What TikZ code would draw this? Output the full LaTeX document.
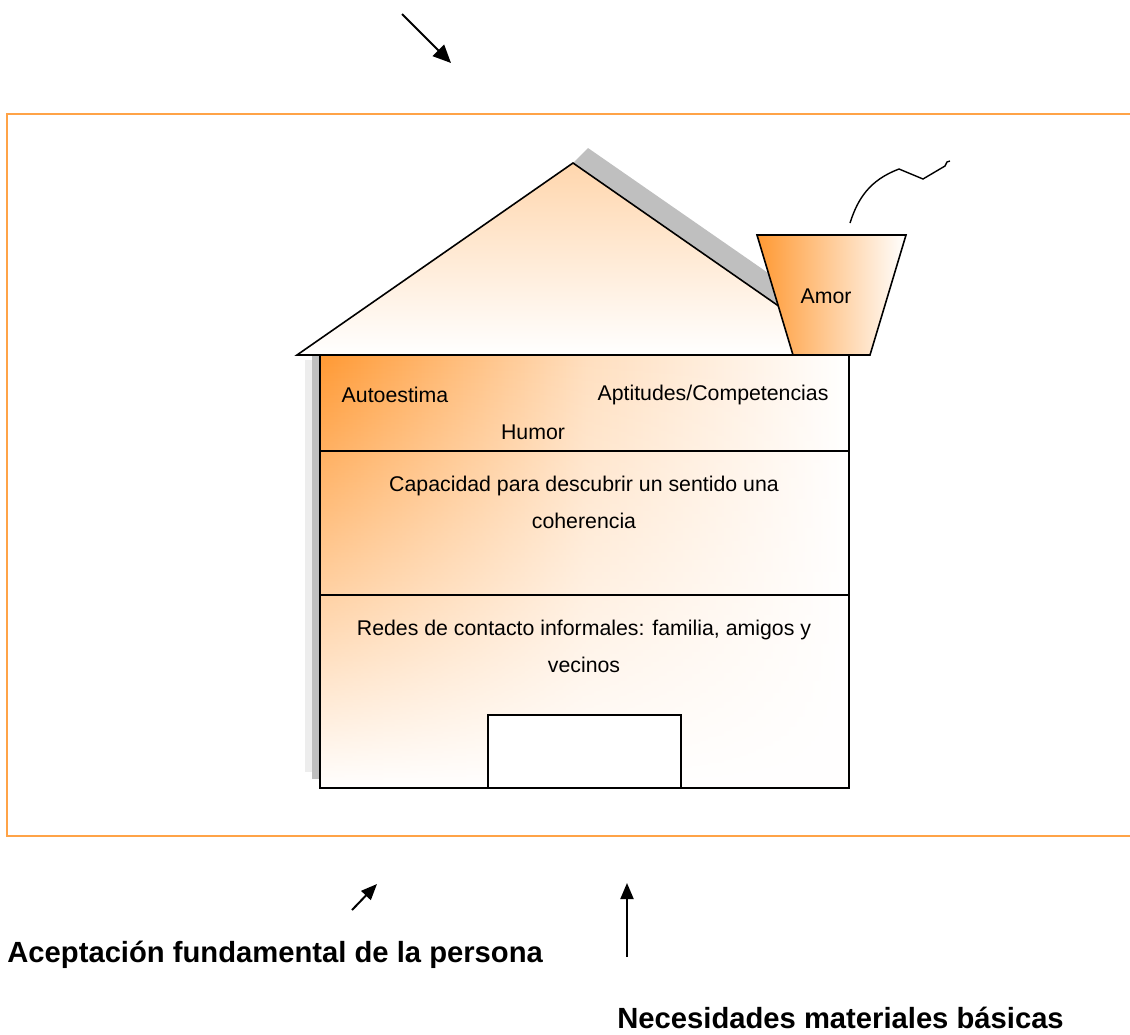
\documentclass[tikz,border=0pt]{standalone}
\usepackage{fontspec}
\setmainfont{Liberation Sans}
\usetikzlibrary{arrows.meta,fadings}
\definecolor{orng}{RGB}{255,153,51}
\tikzfading[name=fadedown, top color=transparent!100, bottom color=transparent!0]

\begin{document}
\begin{tikzpicture}[x=0.5pt,y=-0.5pt,
  txt/.style={inner sep=0pt,font=\fontsize{10.65}{18.5}\selectfont,align=center},
  big/.style={inner sep=0pt,anchor=west,font=\fontsize{14.6}{17}\selectfont\bfseries},
  arr/.style={line width=1pt,-{Triangle[length=8pt,width=6.5pt]}}]
\useasboundingbox (0,0) rectangle (1130,1034);

	\draw[orng!90,line width=0.8pt] (7,114) rectangle (1150,836);

	% shadows
	\fill[black!25] (573,163) -- (588,148) -- (820,309) -- (805,324) -- cycle;
	\fill[black!7] (305,360) rectangle (313,772);
	\fill[black!25] (312,355) rectangle (320,779);

	% walls
	\fill[left color=orng,right color=white,middle color=orng!32] (320,355) rectangle (849,788);
	\fill[white,path fading=fadedown] (320,355) rectangle (849,788);
	\draw[line width=0.8pt] (320,355) rectangle (849,788);
	\draw[line width=0.8pt] (320,451) -- (849,451) (320,595) -- (849,595);

	% roof and chimney
	\draw[line width=0.8pt,top color=orng!40,bottom color=white] (297,355) -- (573,163) -- (849,355) -- cycle;
	\draw[line width=0.8pt,left color=orng,right color=white] (757,235) -- (906,235) -- (870,355) -- (793,355) -- cycle;
	\draw[line width=0.7pt] (850,223) .. controls (858,198) and (870,180) .. (899,169) -- (923,179) -- (945,166) -- (947,162) -- (950,161);

	\draw[line width=1pt,fill=white] (488,715) rectangle (681,788);

	\node[txt] (amor) at (826,296) {Amor};
	\node[txt] (auto) at (395,395) {Autoestima};
	\node[txt] (apt) at (713,395) {Aptitudes/Competencias};
	\node[txt] (humor) at (533,432) {Humor};
	\node[txt] (cap) at (584,502) {Capacidad para descubrir un sentido una\\coherencia};
	\node[txt] (redes) at (584,646) {Redes de contacto informales: familia, amigos y\\vecinos};

	\node[big] (acept) at (7,955) {Aceptación fundamental de la persona};
	\node[big] (neces) at (617,1018) {Necesidades materiales básicas};

	\coordinate (a1) at (402,14);
	\coordinate (a2) at (451,63);
	\coordinate (b1) at (352,910);
	\coordinate (b2) at (377,884);
	\coordinate (c1) at (627,957);
	\coordinate (c2) at (627,883);
	\draw[arr,-{Triangle[length=9pt,width=8pt]}] (a1) -- (a2);
	\draw[arr] (b1) -- (b2);
	\draw[arr] (c1) -- (c2);
\end{tikzpicture}
\end{document}
